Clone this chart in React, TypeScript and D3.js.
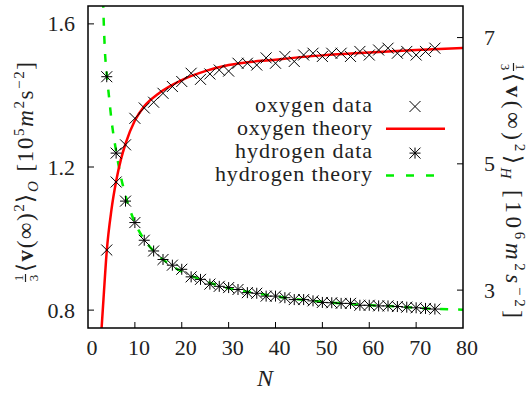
import React from "react";
import * as d3 from "d3";

const nValues = [4, 6, 8, 10, 12, 14, 16, 18, 20, 22, 24, 26, 28, 30, 32, 34, 36, 38, 40, 42, 44, 46, 48, 50, 52, 54, 56, 58, 60, 62, 64, 66, 68, 70, 72, 74];
const oxygenData = [0.968, 1.158, 1.262, 1.336, 1.365, 1.381, 1.406, 1.425, 1.439, 1.462, 1.445, 1.46, 1.471, 1.468, 1.49, 1.49, 1.485, 1.505, 1.49, 1.509, 1.495, 1.513, 1.518, 1.509, 1.518, 1.518, 1.509, 1.523, 1.513, 1.527, 1.532, 1.518, 1.523, 1.513, 1.523, 1.532];
const hydrogenData = [6.38, 5.17, 4.41, 4.07, 3.79, 3.62, 3.485, 3.395, 3.33, 3.21, 3.17, 3.095, 3.06, 3.04, 3.01, 2.96, 2.95, 2.905, 2.905, 2.88, 2.85, 2.85, 2.83, 2.805, 2.8, 2.79, 2.79, 2.76, 2.76, 2.75, 2.75, 2.74, 2.73, 2.72, 2.71, 2.7];

const oxygenTheoryN = [2.9, 3.3, 4, 5, 6, 7, 8, 10, 12, 15, 20, 25, 30, 40, 50, 60, 70, 80];
const oxygenTheoryV = [0.75, 0.83, 0.965, 1.08, 1.16, 1.22, 1.265, 1.33, 1.37, 1.405, 1.443, 1.468, 1.485, 1.5, 1.512, 1.52, 1.527, 1.533];
const hydrogenTheoryN = [3.2, 3.6, 4, 4.5, 5, 6, 7, 8, 10, 12, 14, 18, 24, 30, 36, 42, 48, 54, 60, 66, 72, 80];
const hydrogenTheoryV = [7.6, 6.8, 6.42, 6.05, 5.7, 5.2, 4.8, 4.5, 4.07, 3.8, 3.62, 3.38, 3.17, 3.03, 2.95, 2.88, 2.83, 2.79, 2.76, 2.74, 2.71, 2.69];

const xTicks = [0, 10, 20, 30, 40, 50, 60, 70, 80];
const yLeftTicks = [0.8, 1.2, 1.6];
const yRightTicks = [3, 5, 7];
const legendLabels = ["oxygen data", "oxygen theory", "hydrogen data", "hydrogen theory"];

const W = 530, H = 395;
const L = 88, R = 463, T = 6, B = 328;
const FONT = "Liberation Serif";
const INK = "#222";

const CSS = `
.cm { font-family: 'Liberation Serif', 'Times New Roman', serif !important; fill: #222; }
.tk { font-size: 22px !important; }
.lg { font-size: 22px !important; }
.big { font-size: 23px !important; }
.sm { font-size: 15px !important; }
.fr { font-size: 13px !important; }
.xl { font-size: 24px !important; font-style: italic; }
.it { font-style: italic; }
.bf { font-weight: bold; }
`;

export default function App() {
  const x = d3.scaleLinear().domain([0, 80]).range([L, R]);
  const yL = d3.scaleLinear().domain([0.75, 1.65]).range([B, T]);
  const yR = d3.scaleLinear().domain([2.4, 7.5]).range([B, T]);

  const redLine = d3.line<number>().x((_, i) => x(oxygenTheoryN[i])).y((v) => yL(v)).curve(d3.curveMonotoneX);
  const greenLine = d3.line<number>().x((_, i) => x(hydrogenTheoryN[i])).y((v) => yR(v)).curve(d3.curveMonotoneX);

  const s = 5.5;
  const cross = (cx: number, cy: number, k: string) => (
    <path key={k} d={`M${cx - s},${cy - s}L${cx + s},${cy + s}M${cx - s},${cy + s}L${cx + s},${cy - s}`} stroke="#000" strokeWidth={1} fill="none" />
  );
  const star = (cx: number, cy: number, k: string) => (
    <path key={k} d={`M${cx - s},${cy - s}L${cx + s},${cy + s}M${cx - s},${cy + s}L${cx + s},${cy - s}M${cx - s},${cy}L${cx + s},${cy}M${cx},${cy - s}L${cx},${cy + s}`} stroke="#000" strokeWidth={1} fill="none" />
  );

  const legendX = 372;
  const legendBase = [111.5, 134.8, 158.1, 181.4];
  const legendLen = [117, 135, 137, 157];

  const axisLabel = (sub: string, exp: string, italicS: boolean, len: number) => (
    <>
      <text className="cm fr" x={4} y={-10} textAnchor="middle" fontFamily={FONT}>1</text>
      <line x1={0} x2={8} y1={-7.5} y2={-7.5} stroke={INK} strokeWidth={1.2} />
      <text className="cm fr" x={4} y={5} textAnchor="middle" fontFamily={FONT}>3</text>
      <text className="cm big" x={10} y={0} fontFamily={FONT} textLength={len} lengthAdjust="spacing">
        ⟨<tspan className="bf">v</tspan>(∞)<tspan dy={-9} className="sm">2</tspan><tspan dy={9}>⟩</tspan>
        <tspan dy={5} className="sm it">{sub}</tspan>
        <tspan dy={-5} dx={8}>[10</tspan><tspan dy={-9} className="sm">{exp}</tspan><tspan dy={9} className="it">m</tspan>
        <tspan dy={-9} className="sm">2</tspan><tspan dy={9} className={italicS ? "it" : ""}>s</tspan><tspan dy={-9} className="sm">−2</tspan><tspan dy={9}>]</tspan>
      </text>
    </>
  );

  return (
    <div style={{ position: "absolute", left: 0, top: 0, width: W, height: H, background: "#fff" }}>
      <svg width={W} height={H}>
        <style>{CSS}</style>
        <defs>
          <clipPath id="plotclip">
            <rect x={L} y={T} width={R - L} height={B - T} />
          </clipPath>
        </defs>
        <rect x={0} y={0} width={W} height={H} fill="#fff" />

        {xTicks.slice(1, -1).map((t) => (
          <line key={"xt" + t} x1={x(t)} x2={x(t)} y1={B} y2={B - 6} stroke="#000" strokeWidth={1} />
        ))}
        {yLeftTicks.map((t) => (
          <line key={"ylt" + t} x1={L} x2={L + 6} y1={yL(t)} y2={yL(t)} stroke="#000" strokeWidth={1} />
        ))}
        {yRightTicks.map((t) => (
          <line key={"yrt" + t} x1={R} x2={R - 6} y1={yR(t)} y2={yR(t)} stroke="#000" strokeWidth={1} />
        ))}

        {xTicks.map((t) => (
          <text key={"xl" + t} className="cm tk" x={x(t) + 4} y={355} textAnchor="middle" fontFamily={FONT}>{t}</text>
        ))}
        {yLeftTicks.map((t) => (
          <text key={"yll" + t} className="cm tk" x={75} y={yL(t) + 7.5} textAnchor="end" fontFamily={FONT}>{t.toFixed(1)}</text>
        ))}
        {yRightTicks.map((t) => (
          <text key={"yrl" + t} className="cm tk" x={484} y={yR(t) + 7.5} textAnchor="start" fontFamily={FONT}>{t}</text>
        ))}

        <g clipPath="url(#plotclip)">
          <path d={greenLine(hydrogenTheoryV) || ""} stroke="#00ee00" strokeWidth={2.5} fill="none" strokeDasharray="8,10" />
          <path d={redLine(oxygenTheoryV) || ""} stroke="#ff0000" strokeWidth={2.5} fill="none" />
          {nValues.map((n, i) => cross(x(n), yL(oxygenData[i]), "c" + i))}
          {nValues.map((n, i) => star(x(n), yR(hydrogenData[i]), "s" + i))}
        </g>

        <rect x={L} y={T} width={R - L} height={B - T} fill="none" stroke="#000" strokeWidth={1.5} />

        {legendLabels.map((lab, i) => (
          <text key={"lg" + i} className="cm lg" x={legendX} y={legendBase[i]} textAnchor="end" fontFamily={FONT}
            textLength={legendLen[i]} lengthAdjust="spacing">{lab}</text>
        ))}
        {cross(415, legendBase[0] - 5, "lc")}
        <line x1={386} x2={445} y1={legendBase[1] - 6} y2={legendBase[1] - 6} stroke="#ff0000" strokeWidth={2.5} />
        {star(415, legendBase[2] - 5, "ls")}
        <line x1={386} x2={445} y1={legendBase[3] - 6} y2={legendBase[3] - 6} stroke="#00ee00" strokeWidth={2.5} strokeDasharray="8,12" />

        <text className="cm xl" x={265} y={386} textAnchor="middle" fontFamily={FONT}>N</text>

        <g transform="translate(33,282) rotate(-90)">{axisLabel("O", "5", false, 210)}</g>
        <g transform="translate(506,63) rotate(90)">{axisLabel("H", "6", true, 245)}</g>
      </svg>
    </div>
  );
}
